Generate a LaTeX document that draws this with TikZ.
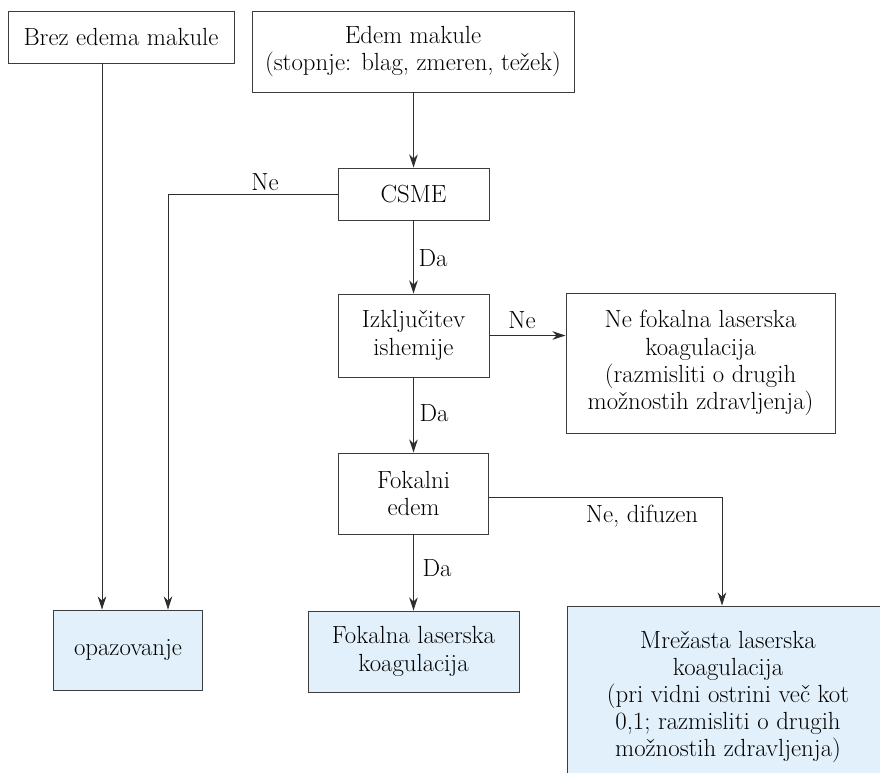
\documentclass[tikz,border=0pt]{standalone}
\usetikzlibrary{arrows.meta}
\definecolor{boxfill}{RGB}{225,240,251}
\definecolor{edge}{RGB}{60,60,60}
\definecolor{wire}{RGB}{45,45,45}
\begin{document}
\begin{tikzpicture}[x=1pt,y=-1pt,
  font=\fontsize{24.8}{27.2}\selectfont,
  box/.style 2 args={draw=edge, line width=0.95pt, minimum width=#1pt, minimum height=#2pt, align=center, inner sep=0pt},
  endbox/.style={fill=boxfill},
  arr/.style={draw=wire, line width=0.95pt, -{Stealth[length=13pt,width=8.5pt,inset=4pt]}},
  lbl/.style={inner sep=0pt}
]
\useasboundingbox (0,0) rectangle (880,772);
\clip (0,0) rectangle (880,772);

\node[box={226}{52}] (brez) at (121,37) {Brez edema makule};
\node[box={322}{81}] (edem) at (413,51.5) {Edem makule\\(stopnje: blag, zmeren, težek)};
\node[box={151}{52}] (csme) at (413.5,194) {CSME};
\node[box={151}{83}] (izk) at (413.5,335.5) {Izključitev\\ishemije};
\node[box={269}{140}] (nefok) at (700.5,363) {Ne fokalna laserska\\koagulacija\\(razmisliti o drugih\\možnostih zdravljenja)};
\node[box={150}{81}] (fokalni) at (413.5,493.5) {Fokalni\\edem};
\node[box={149}{80},endbox] (opaz) at (128,650) {opazovanje};
\node[box={211}{81},endbox] (fokalna) at (413.5,651.5) {Fokalna laserska\\koagulacija};
\node[box={322}{182},endbox] (mrez) at (728,697) {Mrežasta laserska\\koagulacija\\(pri vidni ostrini več kot\\0,1; razmisliti o drugih\\možnostih zdravljenja)};

\coordinate (bx) at (102,0);
\coordinate (nx) at (168,0);
\coordinate (mx) at (722,0);

\draw[arr] (brez.south -| bx) -- (opaz.north -| bx);
\draw[arr] (csme.north |- edem.south) -- (csme.north);
\draw[arr] (csme.west) -| (opaz.north -| nx);
\draw[arr] (csme.south) -- (izk.north);
\draw[arr] (izk.east) -- (nefok.west |- izk.east);
\draw[arr] (izk.south) -- (fokalni.north);
\draw[arr] (fokalni.south) -- (fokalna.north);
\draw[arr] ([yshift=-3.5pt]fokalni.east) -| (mrez.north -| mx);

\node[lbl] (l1) at (265,182) {Ne};
\node[lbl] (l2) at (433,258) {Da};
\node[lbl] (l3) at (522,320) {Ne};
\node[lbl] (l4) at (434,413) {Da};
\node[lbl] (l5) at (642,516) {Ne, difuzen};
\node[lbl] (l6) at (437,568) {Da};
\end{tikzpicture}
\end{document}
